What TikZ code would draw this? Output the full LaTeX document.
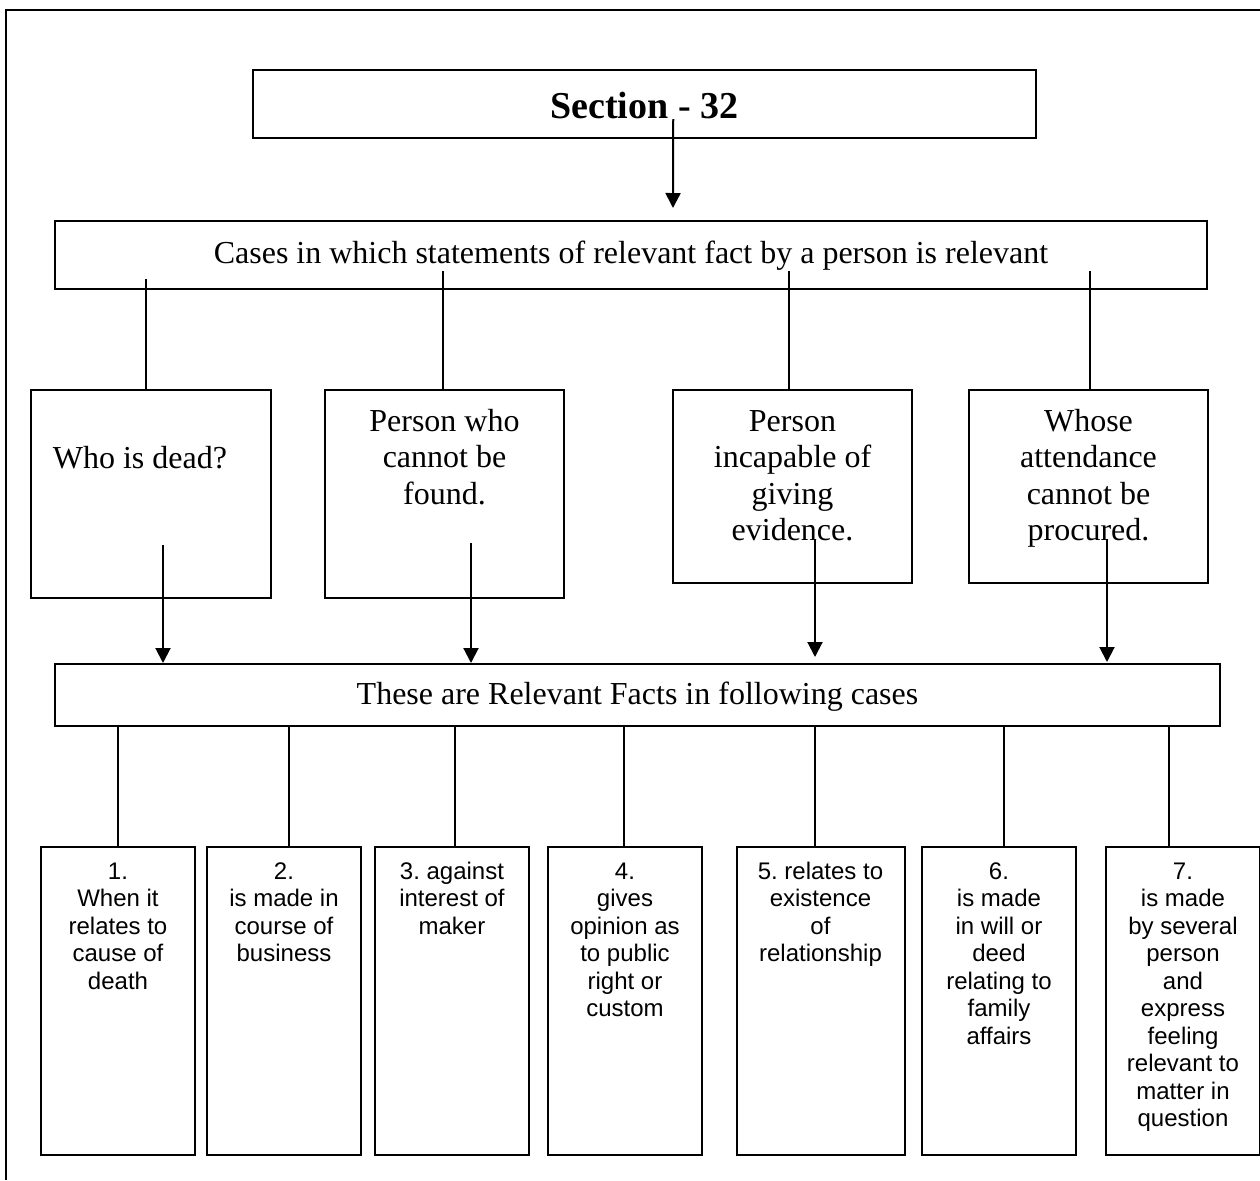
\documentclass[tikz,border=0pt]{standalone}
\usepackage{fontspec}
\setmainfont{Liberation Serif}
\newfontfamily\arialfont{Liberation Sans}
\usetikzlibrary{arrows.meta}
\frenchspacing

% box text: width, height, depth of first baseline, lines
\newcommand{\cell}[4]{\parbox[c][#2][t]{#1}{\centering\rule{0pt}{#3}#4}}

\tikzset{
  box/.style={draw, line width=1pt, inner sep=0pt, anchor=north west},
  link/.style={line width=1pt},
  arrow/.style={link, -{Triangle[width=7.5pt,length=7.5pt]}},
  serif/.style={font=\fontsize{16}{18.25}\selectfont},
  sans/.style={font=\arialfont\fontsize{12}{13.75}\selectfont},
}

\begin{document}
\begin{tikzpicture}[x=0.5pt,y=-0.5pt]
  \useasboundingbox (0,0) rectangle (1260,1180);
  \draw[line width=1pt] (1260,10) -- (6,10) -- (6,1180);

  % top of the chart
  \node[box, font=\bfseries\fontsize{19}{22}\selectfont] (sec) at (251.5,69)
    {\cell{391.75pt}{34pt}{24pt}{Section - 32}};
  \node[box, serif] (cases) at (54,220)
    {\cell{576pt}{34pt}{21pt}{Cases in which statements of relevant fact by a person is relevant}};

  % the four persons
  \node[box, serif] (dead) at (30,389)
    {\cell{120pt}{104pt}{39pt}{Who is dead?\hspace*{11pt}}};
  \node[box, serif] (found) at (324,389)
    {\cell{119.5pt}{104pt}{20.5pt}{Person who\\cannot be\\found.}};
  \node[box, serif] (incap) at (672,389)
    {\cell{119.5pt}{96.5pt}{20.5pt}{Person\\incapable of\\giving\\evidence.}};
  \node[box, serif] (absent) at (968,389)
    {\cell{119.5pt}{96.5pt}{20.5pt}{Whose\\attendance\\cannot be\\procured.}};

  \node[box, serif] (facts) at (54,663)
    {\cell{582.5pt}{31pt}{20pt}{These are Relevant Facts in following cases}};

  % the seven cases
  \node[box, sans] (f1) at (40,846)
    {\cell{77pt}{154pt}{16pt}{1.\\When it\\relates to\\cause of\\death}};
  \node[box, sans] (f2) at (206,846)
    {\cell{77pt}{154pt}{16pt}{2.\\is made in\\course of\\business}};
  \node[box, sans] (f3) at (374,846)
    {\cell{77pt}{154pt}{16pt}{3. against\\interest of\\maker}};
  \node[box, sans] (f4) at (547,846)
    {\cell{77pt}{154pt}{16pt}{4.\\gives\\opinion as\\to public\\right or\\custom}};
  \node[box, sans] (f5) at (735.5,846)
    {\cell{84pt}{154pt}{16pt}{5. relates to\\existence\\of\\relationship}};
  \node[box, sans] (f6) at (921,846)
    {\cell{77pt}{154pt}{16pt}{6.\\is made\\in will or\\deed\\relating to\\family\\affairs}};
  \node[box, sans] (f7) at (1105,846)
    {\cell{77pt}{154pt}{16pt}{7.\\is made\\by several\\person\\and\\express\\feeling\\relevant to\\matter in\\question}};

  % connectors
  \draw[arrow] ([shift={(29,-20)}]sec.south) -- ([shift={(42,-12)}]cases.north);

  \foreach \b/\dx/\up in {dead/-5/11, found/-1.5/19, incap/-3.5/19, absent/1.5/19}
    \draw[link] ([shift={(\dx,-\up)}]cases.south -| \b.north) -- ([shift={(\dx,0)}]\b.north);

  \foreach \b/\dx/\up/\gap in {dead/12/54/0, found/26.5/56/0, incap/22.5/45/6, absent/18.5/45/1}
    \draw[arrow] ([shift={(\dx,-\up)}]\b.south) -- ([shift={(\dx,-\gap)}]\b.south |- facts.north);

  \foreach \n/\dx in {1/0, 2/5, 3/3, 4/-1, 5/-6, 6/5, 7/-14}
    \draw[link] ([shift={(\dx,0)}]facts.south -| f\n.north) -- ([shift={(\dx,0)}]f\n.north);
\end{tikzpicture}
\end{document}
